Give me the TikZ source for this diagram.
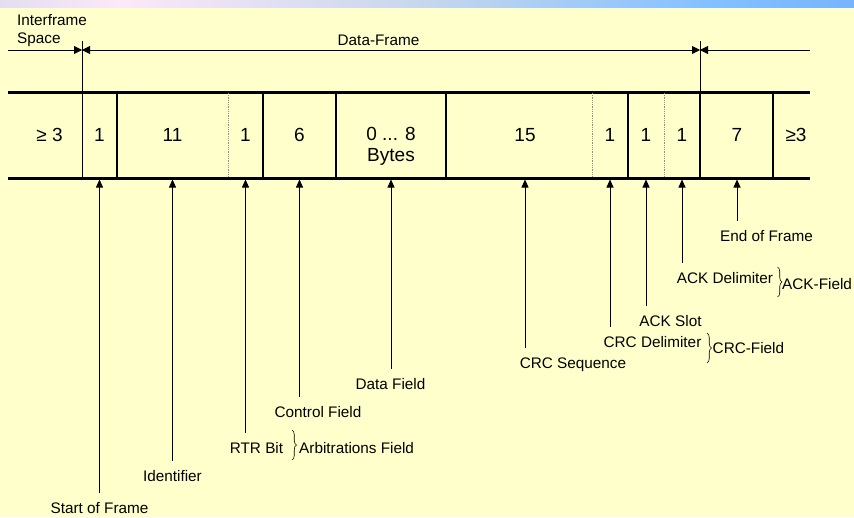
\documentclass[tikz,border=0pt]{standalone}
\usepackage{fontspec}
\setmainfont{Liberation Sans}
\usepackage{tikz}
\usetikzlibrary{arrows.meta,positioning,calc,decorations.pathreplacing}
\definecolor{canpaper}{RGB}{255,255,204}
\definecolor{barlilac}{RGB}{226,222,240}
\definecolor{barpink}{RGB}{252,232,248}
\definecolor{bargrey}{RGB}{198,214,236}
\definecolor{barblue}{RGB}{130,192,255}
\definecolor{barsky}{RGB}{120,180,250}
\pgfdeclarehorizontalshading{titlebar}{100bp}{color(0bp)=(barlilac); color(25bp)=(barlilac); color(32bp)=(barpink); color(50bp)=(bargrey); color(67bp)=(barblue); color(75bp)=(barsky); color(100bp)=(barsky)}
\newcommand{\cellsize}{\fontsize{19}{21}\selectfont}
\newcommand{\notesize}{\fontsize{15.3}{18}\selectfont}

\begin{document}
\begin{tikzpicture}[x=1pt,y=-1pt,
    cell/.style={inner sep=0pt, align=center, font=\cellsize},
    lbl/.style={inner xsep=0pt, inner ysep=9pt, anchor=base, font=\notesize},
    fld/.style={inner sep=0pt, anchor=base west, font=\notesize},
    pointer/.style={-{Triangle[length=8pt,width=7pt]}, line width=0.8pt, shorten >=1.5pt},
    spantip/.style={line width=0.8pt},
    framerule/.style={line width=3pt},
    thickdiv/.style={line width=2pt},
    thindiv/.style={line width=0.8pt},
    dotdiv/.style={black!45, densely dotted, line width=0.8pt},
    fieldbrace/.style={decorate, decoration={brace, amplitude=4.5pt}, line width=0.6pt}
  ]
    \useasboundingbox (0,0) rectangle (854,517);
    % Page and title bar
    \fill[canpaper] (0,0) rectangle (854,517);
    \shade[shading=titlebar] (0,0) rectangle (854,7);

    % Frame outline
    \coordinate (ftop) at (8,92);
    \coordinate (fbot) at (8,178);
    \draw[framerule] (ftop) -- (810,92);
    \draw[framerule] (fbot) -- (810,178);
    \foreach \x in {117,263,336,446,628,700,773}
      \draw[thickdiv] (\x,92) -- (\x,178);
    \foreach \x in {228,592,664}
      \draw[dotdiv] (\x,93) -- (\x,177);

    % Interframe / data frame span
    \coordinate (ifsL) at (8,50);
    \coordinate (ifsR) at (810,50);
    \coordinate (sofT) at (82,41);
    \coordinate (eofT) at (700,41);
    \draw[thindiv] (sofT) -- (sofT |- fbot);
    \draw[thindiv] (eofT) -- (eofT |- ftop);
    \draw[spantip, -{Triangle[length=8pt,width=8pt]}] (ifsL) -- (ifsL -| sofT);
    \draw[spantip, {Triangle[length=8pt,width=8pt]}-{Triangle[length=8pt,width=8pt]}] (ifsL -| sofT) -- (ifsL -| eofT);
    \draw[spantip, -{Triangle[length=8pt,width=8pt]}] (ifsR) -- (ifsL -| eofT);
    \node[inner sep=0pt, anchor=south west, align=left, font=\notesize] (ifstxt) at (17,46.5) {Interframe\\Space};
    \node[inner sep=0pt, anchor=base, font=\notesize] (dftxt) at (378.5,45) {Data-Frame};

    % Bit counts
    \node[cell] (ifsa) at (49.5,135) {≥ 3};
    \node[cell] (sof) at (99.5,135) {1};
    \node[cell] (ident) at (172.5,135) {11};
    \node[cell] (rtr) at (245.5,135) {1};
    \node[cell] (ctrl) at (299.5,135) {6};
    \node[cell] (data) at (391,146) {0 ... 8\\Bytes};
    \node[cell] (crc) at (525,135) {15};
    \node[cell] (crcdel) at (610,135) {1};
    \node[cell] (ackslot) at (646,135) {1};
    \node[cell] (ackdel) at (682,135) {1};
    \node[cell] (eof) at (737,135) {7};
    \node[cell] (ifsb) at (796,135) {≥3};

    % Field names
    \node[lbl] (sofl) at (99.5,513.5) {Start of Frame};
    \node[lbl] (identl) at (172.5,481) {Identifier};
    \node[lbl] (rtrl) at (256.5,453) {RTR Bit};
    \node[lbl] (ctrll) at (318,417) {Control Field};
    \node[lbl] (datal) at (390.5,389) {Data Field};
    \node[lbl] (crcl) at (573,368) {CRC Sequence};
    \node[lbl] (crcdell) at (652.5,347) {CRC Delimiter};
    \node[lbl] (ackslotl) at (670.5,326) {ACK Slot};
    \node[lbl] (ackdell) at (725,283) {ACK Delimiter};
    \node[lbl] (eofl) at (766.5,241) {End of Frame};
    \node[fld] (arbf) at (299,453) {Arbitrations Field};
    \node[fld] (crcf) at (712.5,353) {CRC-Field};
    \node[fld] (ackf) at (782,289) {ACK-Field};

    % Pointers
    \draw[pointer] (sof |- sofl.north) -- (sof |- fbot);
    \draw[pointer] (ident |- identl.north) -- (ident |- fbot);
    \draw[pointer] (rtr |- rtrl.north) -- (rtr |- fbot);
    \draw[pointer] (ctrl |- ctrll.north) -- (ctrl |- fbot);
    \draw[pointer] (data |- datal.north) -- (data |- fbot);
    \draw[pointer] (crc |- crcl.north) -- (crc |- fbot);
    \draw[pointer] (crcdel |- crcdell.north) -- (crcdel |- fbot);
    \draw[pointer] (ackslot |- ackslotl.north) -- (ackslot |- fbot);
    \draw[pointer] (ackdel |- ackdell.north) -- (ackdel |- fbot);
    \draw[pointer] (eof |- eofl.north) -- (eof |- fbot);

    % Braces
    \draw[fieldbrace] ([shift={(-7,-23)}]arbf.base west) -- ([shift={(-7,7)}]arbf.base west);
    \draw[fieldbrace] ([shift={(-5.5,-20)}]crcf.base west) -- ([shift={(-5.5,10)}]crcf.base west);
    \draw[fieldbrace] ([shift={(-4.5,-22)}]ackf.base west) -- ([shift={(-4.5,8)}]ackf.base west);
  \end{tikzpicture}
\end{document}
